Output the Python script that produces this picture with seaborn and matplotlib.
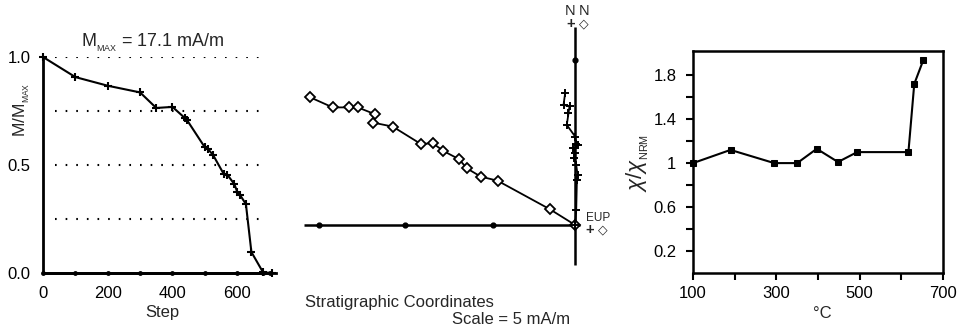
import numpy as np
import pandas as pd
import seaborn as sns
import matplotlib.pyplot as plt

# Demagnetisation curve (left panel)
steps = [0, 100, 200, 300, 350, 400, 438, 445, 500, 510, 526, 559, 570, 591, 601, 608, 627, 644, 680, 709]
m_ratio = [1.0, 0.907, 0.867, 0.836, 0.764, 0.769, 0.718, 0.708, 0.582, 0.574, 0.545, 0.457,
           0.454, 0.412, 0.373, 0.363, 0.319, 0.097, 0.003, 0.0]
base_steps = [0, 100, 200, 300, 400, 500, 600, 680, 700]
base_vals = [0, 0, 0, 0, 0, 0, 0, 0, 0]
grid_levels = [0.25, 0.5, 0.75, 1.0]

# Zijderveld diagram (middle panel), mA/m
vert_x = [-15.44, -14.12, -13.20, -12.66, -11.65, -11.75, -10.62, -8.99, -8.29, -7.67, -6.76,
          -6.31, -5.50, -4.52, -1.46, 0.0]
vert_y = [7.44, 6.85, 6.85, 6.85, 6.45, 5.96, 5.73, 4.72, 4.76, 4.31, 3.83, 3.30, 2.82, 2.58, 0.91, 0.0]
horiz_x = [-0.58, -0.68, -0.33, -0.39, -0.49, 0.0, 0.06, 0.14, -0.10, 0.0, -0.06, 0.06, 0.14, 0.10, 0.06, 0.0]
horiz_y = [7.71, 6.99, 6.93, 6.50, 5.83, 5.15, 4.72, 4.66, 4.47, 4.17, 3.88, 3.50, 2.91, 2.62, 0.87, 0.0]
zij_ticks_x = [-14.9, -9.9, -4.8]
zij_ticks_y = [9.6]

# Susceptibility (right panel)
temps = [100, 190, 295, 350, 397, 448, 494, 617, 631, 653]
chi = [1.0, 1.12, 1.0, 1.0, 1.13, 1.01, 1.10, 1.10, 1.72, 1.94]

sns.set_theme(style="white")
plt.rcParams['font.family'] = ['Liberation Sans', 'DejaVu Sans']
plt.rcParams['mathtext.fontset'] = 'custom'
plt.rcParams['mathtext.rm'] = 'Liberation Sans'
plt.rcParams['mathtext.it'] = 'Liberation Sans:italic'

W, H = 963, 330
fig = plt.figure(figsize=(W / 100, H / 100), dpi=100)


def px_axes(left, top, right, bottom):
    return fig.add_axes([left / W, 1 - bottom / H, (right - left) / W, (bottom - top) / H])


# ---- left panel
ax1 = px_axes(43, 57, 276, 273)
ax1.hlines(grid_levels, 36, 690, colors='black', linewidth=1.5, linestyles=(0, (0.8, 4.3)))
sns.lineplot(x=base_steps, y=base_vals, ax=ax1, color='black', linewidth=2, marker='o',
             markersize=3.5, markeredgewidth=0, clip_on=False)
sns.lineplot(x=steps, y=m_ratio, ax=ax1, color='black', linewidth=1.5, marker='+',
             markersize=6, markeredgewidth=1.5, markeredgecolor='black', clip_on=False)
ax1.set_xlim(0, 720)
ax1.set_ylim(0, 1.0)
ax1.set_xticks([0, 200, 400, 600])
ax1.set_yticks([0, 0.5, 1.0])
ax1.set_yticklabels(['0.0', '0.5', '1.0'])
ax1.tick_params(length=0, labelsize=12, pad=9, colors='black')
for s in ['top', 'right']:
    ax1.spines[s].set_visible(False)
for s in ['left', 'bottom']:
    ax1.spines[s].set_linewidth(2)
    ax1.spines[s].set_color('black')
fig.text(153 / W, 1 - 43 / H, r'M$_{_{\mathregular{MAX}}}$ = 17.1 mA/m', ha='center', va='center', fontsize=13)
fig.text(22 / W, 1 - 110 / H, r'M/M$_{_{\mathregular{MAX}}}$', ha='center', va='center', rotation=90, fontsize=12.5)
fig.text(162 / W, 1 - 312 / H, 'Step', ha='center', va='center', fontsize=12)

# ---- middle panel (Zijderveld)
ax2 = fig.add_axes([297 / W, 1 - 283.4 / H, 319.4 / W, 281.6 / H])
ax2.set_xlim(-16.2, 2.4)
ax2.set_ylim(-3.4, 13.0)
ax2.axis('off')
ax2.hlines(0, -15.8, 0.3, colors='black', linewidth=1.8)
ax2.vlines(0, -2.33, 11.55, colors='black', linewidth=1.8)
ax2.scatter(zij_ticks_x, [0] * len(zij_ticks_x), s=12, color='black', zorder=3)
ax2.scatter([0] * len(zij_ticks_y), zij_ticks_y, s=12, color='black', zorder=3)
sns.lineplot(x=vert_x, y=vert_y, ax=ax2, sort=False, estimator=None, color='black', linewidth=1.3,
             marker='D', markersize=5.5, markerfacecolor='white', markeredgecolor='black',
             markeredgewidth=1.3, zorder=4)
sns.lineplot(x=horiz_x, y=horiz_y, ax=ax2, sort=False, estimator=None, color='black', linewidth=1.3,
             marker='+', markersize=6, markeredgecolor='black', markeredgewidth=1.4, zorder=4)
ax2.text(-0.29, 12.45, 'N', ha='center', va='center', fontsize=10.5)
ax2.text(0.49, 12.45, 'N', ha='center', va='center', fontsize=10.5)
ax2.text(-0.29, 11.7, '+', ha='center', va='center', fontsize=10.5, fontweight='bold')
ax2.text(0.49, 11.7, '\u25c7', ha='center', va='center', fontsize=9, fontweight='bold', family='DejaVu Sans')
ax2.text(1.36, 0.42, 'EUP', ha='center', va='center', fontsize=8.5)
ax2.text(0.87, -0.3, '+', ha='center', va='center', fontsize=10.5, fontweight='bold')
ax2.text(1.61, -0.3, '\u25c7', ha='center', va='center', fontsize=9, fontweight='bold', family='DejaVu Sans')
fig.text(305 / W, 1 - 302 / H, 'Stratigraphic Coordinates', ha='left', va='center', fontsize=12)
fig.text(570 / W, 1 - 320 / H, 'Scale = 5 mA/m', ha='right', va='center', fontsize=12)

# ---- right panel
ax3 = px_axes(693, 51, 943, 273)
sns.lineplot(x=temps, y=chi, ax=ax3, color='black', linewidth=1.5, marker='s', markersize=5,
             markeredgecolor='black', markerfacecolor='black', clip_on=False)
ax3.set_xlim(100, 700)
ax3.set_ylim(0, 2.02)
ax3.set_xticks([100, 300, 500, 700])
ax3.set_xticks([200, 400, 600], minor=True)
ax3.set_yticks([0.2, 0.6, 1.0, 1.4, 1.8])
ax3.set_yticklabels(['0.2', '0.6', '1', '1.4', '1.8'])
ax3.set_yticks([0.4, 0.8, 1.2, 1.6], minor=True)
ax3.tick_params(which='both', direction='out', length=5, width=1.5, colors='black', labelsize=12)
ax3.tick_params(axis='y', which='major', pad=7)
ax3.tick_params(axis='x', which='major', pad=4)
ax3.tick_params(which='both', left=True, bottom=True)
for s in ax3.spines.values():
    s.set_linewidth(1.8)
    s.set_color('black')
fig.text(638 / W, 1 - 163 / H, r'$\chi/\chi_{_{\mathregular{NRM}}}$', ha='center', va='center',
         rotation=90, fontsize=16)
fig.text(822 / W, 1 - 313 / H, '\u00b0C', ha='center', va='center', fontsize=12)

fig.savefig('out.png', dpi=100)
